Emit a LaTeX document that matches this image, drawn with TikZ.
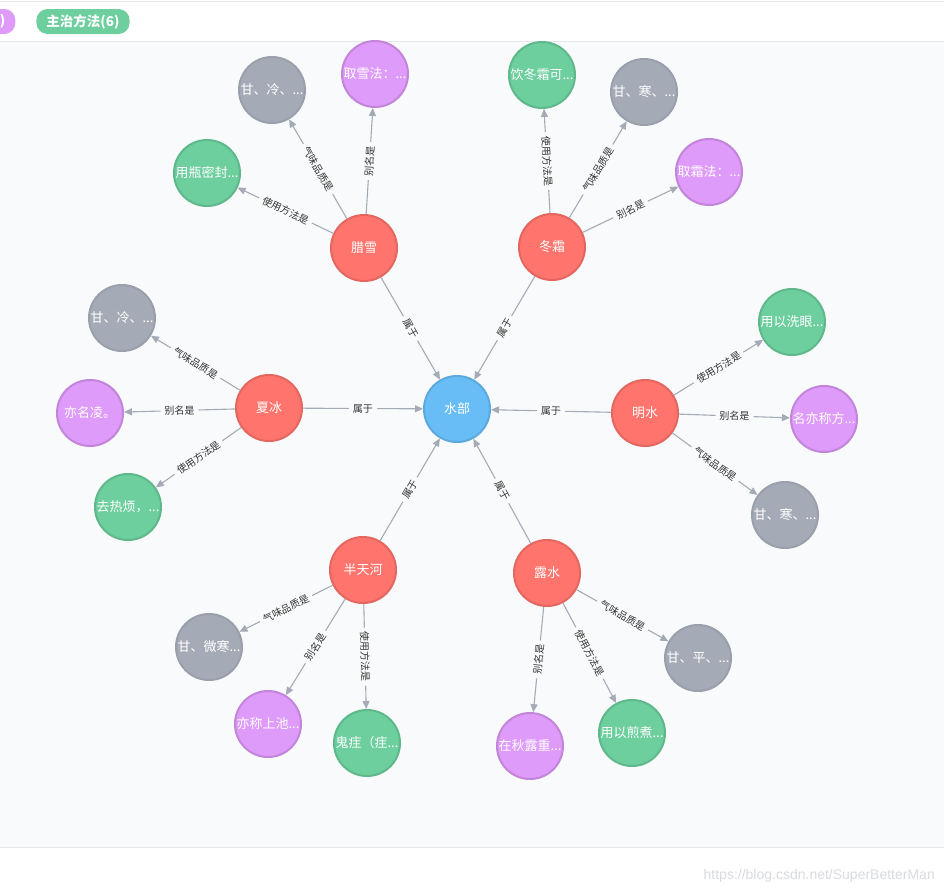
\documentclass[tikz,border=0pt]{standalone}
\usepackage{fontspec}
\setmainfont{Liberation Sans}
\newfontfamily\cjk{Noto Sans CJK SC}
\usetikzlibrary{arrows.meta}
\definecolor{pagebg}{HTML}{F9FAFB}
\definecolor{rulegray}{HTML}{E6E8EB}
\definecolor{redfill}{HTML}{FF756E}
\definecolor{redline}{HTML}{E3665F}
\definecolor{purfill}{HTML}{DE9BF9}
\definecolor{purline}{HTML}{C285DA}
\definecolor{grnfill}{HTML}{6DCE9E}
\definecolor{grnline}{HTML}{5FB88B}
\definecolor{gryfill}{HTML}{A5ABB6}
\definecolor{gryline}{HTML}{9AA0AB}
\definecolor{blufill}{HTML}{68BDF6}
\definecolor{bluline}{HTML}{5CA9DD}
\definecolor{edgecol}{HTML}{A5ABB6}
\definecolor{labcol}{HTML}{333333}
\definecolor{wmark}{HTML}{D9DBDE}
\tikzset{
  gnode/.style={circle, minimum size=66pt, inner sep=0pt, line width=2pt,
    text=white, font=\cjk\fontsize{13}{13}\selectfont},
  rednode/.style={gnode, fill=redfill, draw=redline},
  purnode/.style={gnode, fill=purfill, draw=purline},
  grnnode/.style={gnode, fill=grnfill, draw=grnline},
  grynode/.style={gnode, fill=gryfill, draw=gryline},
  blunode/.style={gnode, fill=blufill, draw=bluline},
  edge/.style={draw=edgecol, line width=1.1pt, -{Triangle[length=8pt,width=7pt]}},
  elabel/.style={sloped, fill=pagebg, inner xsep=4pt, inner ysep=1pt, text=labcol,
    font=\cjk\fontsize{10}{10}\selectfont},
  pill/.style={rounded corners=11pt, minimum height=25pt, inner xsep=10pt, inner ysep=0pt,
    text=white, font=\cjk\bfseries\fontsize{13.5}{13.5}\selectfont}
}
\begin{document}
\begin{tikzpicture}[x=1pt,y=-1pt]
\useasboundingbox (0,0) rectangle (944,894);
\fill[white] (0,0) rectangle (944,894);
\fill[pagebg] (0,42) rectangle (944,847);
\draw[rulegray, line width=1pt] (0,1.5) -- (944,1.5);
\draw[rulegray, line width=1pt] (0,41.5) -- (944,41.5);
\draw[rulegray, line width=1pt] (0,847) -- (944,847);

% legend pills
\node[pill, fill=purfill, anchor=east] (pillA) at (15.5,21.5) {(6)};
\node[pill, fill=grnfill] (pillB) at (83,21.5) {主治方法(6)};

% watermark
\node[anchor=east, text=wmark, font=\fontsize{14}{14}\selectfont, inner sep=0pt] (wm) at (935,876) {https://blog.csdn.net/SuperBetterMan};

% central
\node[blunode] (shuibu) at (457,409) {水部};
% categories
\node[rednode] (laxue) at (364,248) {腊雪};
\node[rednode] (dongshuang) at (552,247) {冬霜};
\node[rednode] (xiabing) at (269,408) {夏冰};
\node[rednode] (mingshui) at (645,413) {明水};
\node[rednode] (bantianhe) at (363,570) {半天河};
\node[rednode] (lushui) at (547,573) {露水};

% 腊雪 children
\node[grynode] (lxg) at (272,90) {甘、冷、...};
\node[purnode] (lxp) at (375,74) {取雪法：...};
\node[grnnode] (lxn) at (207,173) {用瓶密封...};
% 冬霜 children
\node[grnnode] (dsn) at (542,75) {饮冬霜可...};
\node[grynode] (dsg) at (644,92) {甘、寒、...};
\node[purnode] (dsp) at (709,172) {取霜法：...};
% 夏冰 children
\node[grynode] (xbg) at (122,318) {甘、冷、...};
\node[purnode] (xbp) at (90,413) {亦名凌。};
\node[grnnode] (xbn) at (128,507) {去热烦，...};
% 明水 children
\node[grnnode] (msn) at (792,322) {用以洗眼...};
\node[purnode] (msp) at (824,419) {名亦称方...};
\node[grynode] (msg) at (785,515) {甘、寒、...};
% 半天河 children
\node[grynode] (btg) at (209,647) {甘、微寒...};
\node[purnode] (btp) at (268,724) {亦称上池...};
\node[grnnode] (btn) at (367,743) {鬼疰（疰...};
% 露水 children
\node[grynode] (lsg) at (698,658) {甘、平、...};
\node[purnode] (lsp) at (530,746) {在秋露重...};
\node[grnnode] (lsn) at (632,733) {用以煎煮...};

% edges to center
\draw[edge] (laxue) -- node[elabel]{属于} (shuibu);
\draw[edge] (dongshuang) -- node[elabel]{属于} (shuibu);
\draw[edge] (xiabing) -- node[elabel]{属于} (shuibu);
\draw[edge] (mingshui) -- node[elabel]{属于} (shuibu);
\draw[edge] (bantianhe) -- node[elabel]{属于} (shuibu);
\draw[edge] (lushui) -- node[elabel]{属于} (shuibu);

% 腊雪
\draw[edge] (laxue) -- node[elabel]{气味品质是} (lxg);
\draw[edge] (laxue) -- node[elabel]{别名是} (lxp);
\draw[edge] (laxue) -- node[elabel]{使用方法是} (lxn);
% 冬霜
\draw[edge] (dongshuang) -- node[elabel]{使用方法是} (dsn);
\draw[edge] (dongshuang) -- node[elabel]{气味品质是} (dsg);
\draw[edge] (dongshuang) -- node[elabel]{别名是} (dsp);
% 夏冰
\draw[edge] (xiabing) -- node[elabel]{气味品质是} (xbg);
\draw[edge] (xiabing) -- node[elabel]{别名是} (xbp);
\draw[edge] (xiabing) -- node[elabel]{使用方法是} (xbn);
% 明水
\draw[edge] (mingshui) -- node[elabel]{使用方法是} (msn);
\draw[edge] (mingshui) -- node[elabel]{别名是} (msp);
\draw[edge] (mingshui) -- node[elabel]{气味品质是} (msg);
% 半天河
\draw[edge] (bantianhe) -- node[elabel]{气味品质是} (btg);
\draw[edge] (bantianhe) -- node[elabel]{别名是} (btp);
\draw[edge] (bantianhe) -- node[elabel]{使用方法是} (btn);
% 露水
\draw[edge] (lushui) -- node[elabel]{气味品质是} (lsg);
\draw[edge] (lushui) -- node[elabel]{别名是} (lsp);
\draw[edge] (lushui) -- node[elabel]{使用方法是} (lsn);
\end{tikzpicture}
\end{document}
